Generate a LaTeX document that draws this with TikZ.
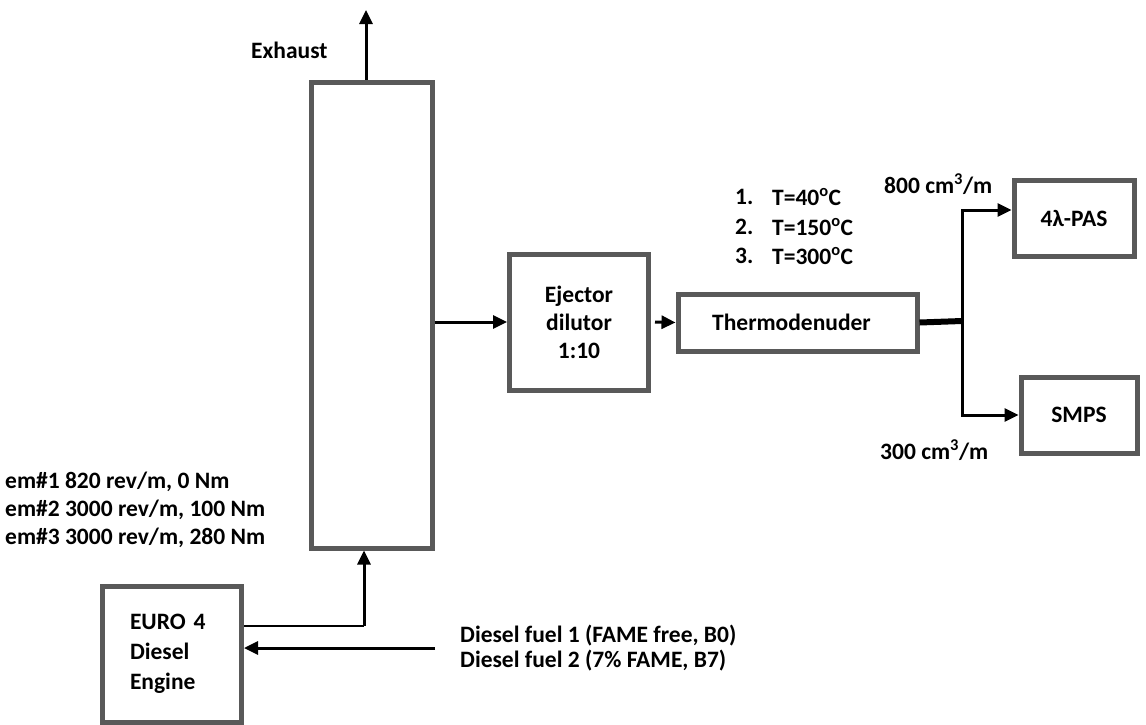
\documentclass[tikz,border=0pt]{standalone}
\usepackage{fontspec}
\setmainfont{Carlito}
\usepackage{tikz}
\usetikzlibrary{arrows.meta,calc,positioning}
\definecolor{boxgray}{RGB}{89,89,89}

\begin{document}
\begin{tikzpicture}[x=1pt,y=-1pt,
  every node/.style={font=\fontsize{23.5}{28}\selectfont\bfseries, inner sep=0pt},
  unit/.style={draw=boxgray, line width=5pt, inner sep=0pt},
  flow/.style={-{Triangle[length=14pt,width=13pt]}, line width=3pt},
  pipe/.style={line width=2pt}]
\useasboundingbox (0,0) rectangle (1146,724);

% Boxes
\node[unit, minimum width=121pt, minimum height=466pt] (col) at (371.5,315) {};
\node[unit, minimum width=139pt, minimum height=136pt, align=left, text width=84pt] (eng) at (172,654) {EURO~4\\[2pt]Diesel\\[2pt]Engine\\[10pt]};
\node[unit, minimum width=139pt, minimum height=136pt, align=center] (ej) at (579,322) {Ejector\\dilutor\\1:10};
\node[unit, minimum width=239pt, minimum height=57pt] (th) at (797.5,322.5) {\hspace*{-12pt}Thermodenuder};
\node[unit, minimum width=120pt, minimum height=76pt] (pas) at (1074,218) {4λ-PAS};
\node[unit, minimum width=116pt, minimum height=76pt] (smps) at (1079,415) {SMPS};

% Free ends
\coordinate (exh) at (366,10);
\coordinate (tap) at (364,626);
\coordinate (fuel) at (435,648);
\coordinate (split) at (962,321);

% Connections
\draw[flow] (exh |- col.north) -- (exh);
\draw[pipe] (eng.east |- tap) -- (tap);
\draw[flow] (tap) -- (tap |- col.south);
\draw[flow] (fuel) -- (fuel -| eng.east);
\draw[flow] (ej.west -| col.east) -- (ej.west);
\draw[flow, shorten <=4pt] (ej.east) -- (th.west);
\draw[line width=6pt] (th.east) -- (split);
\draw[flow] (split) |- ([yshift=8pt]pas.west);
\draw[flow] (split) |- (smps.west);

% Labels
\node[anchor=west] (exhtxt) at (251,50) {Exhaust};
\node[anchor=west, align=left] (emtxt) at (5,510) {em\#1 820 rev/m, 0 Nm\\em\#2 3000 rev/m, 100 Nm\\em\#3 3000 rev/m, 280 Nm};
\node[anchor=west, align=left, font=\fontsize{23.5}{25}\selectfont\bfseries] (fueltxt) at (460,648) {Diesel fuel 1 (FAME free, B0)\\Diesel fuel 2 (7\% FAME, B7)};
\node[anchor=west] (q1) at (884,184) {800 cm\textsuperscript{3}/m};
\node[anchor=west] (q2) at (880,450) {300 cm\textsuperscript{3}/m};
\node[anchor=west] (n1) at (735,197) {1.}; \node[anchor=west] (t1) at (772,197) {T=40\textsuperscript{o}C};
\node[anchor=west] (n2) at (735,227) {2.}; \node[anchor=west] (t2) at (772,227) {T=150\textsuperscript{o}C};
\node[anchor=west] (n3) at (735,256) {3.}; \node[anchor=west] (t3) at (772,256) {T=300\textsuperscript{o}C};
\end{tikzpicture}
\end{document}
